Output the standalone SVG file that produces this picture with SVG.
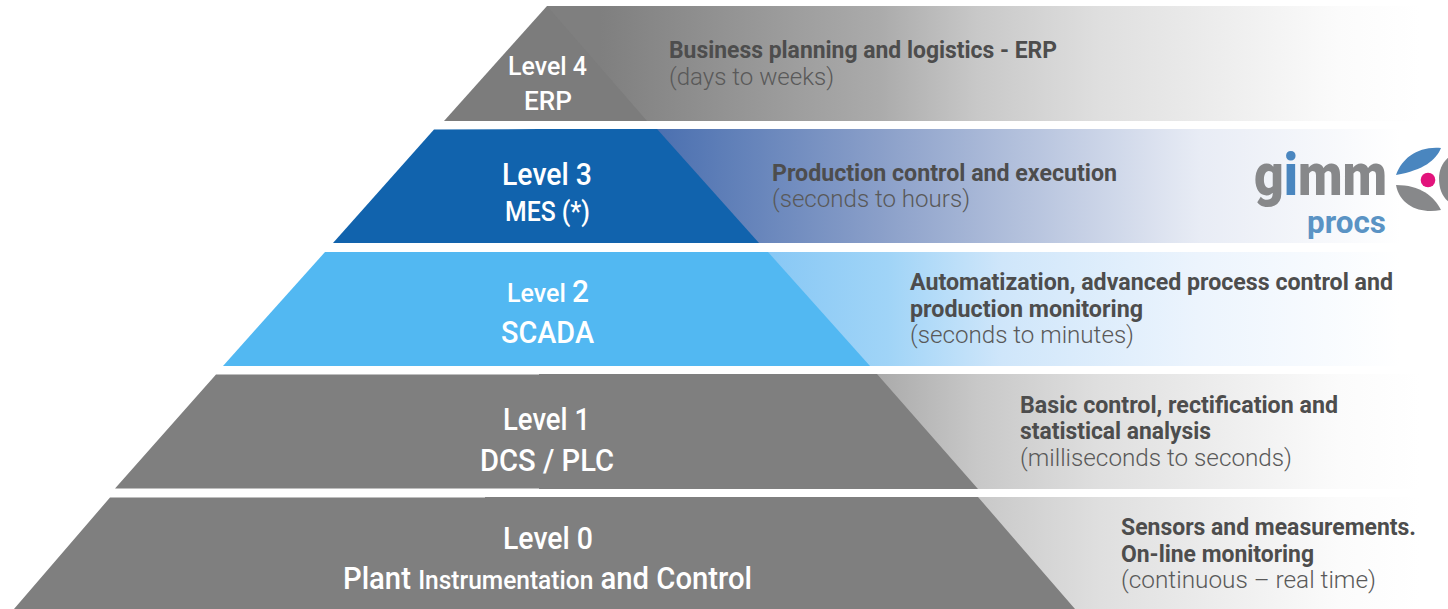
<svg xmlns="http://www.w3.org/2000/svg" width="1448" height="609" viewBox="0 0 1448 609">
<style>
text{font-family:Roboto,"Liberation Sans",sans-serif}
.l{fill:#fff;font-weight:500;text-anchor:middle}
.h{fill:#4d4d4d;font-weight:700;font-size:24px}
.s{fill:#595959;font-weight:300;font-size:24px}
</style>
<defs>
<linearGradient id="gGray" gradientUnits="userSpaceOnUse" x1="600" y1="0" x2="1420" y2="0"><stop offset="0" stop-color="#7f7f7f"/><stop offset=".342" stop-color="#ababab"/><stop offset=".46" stop-color="#c8c8c8"/><stop offset=".61" stop-color="#dfdfdf"/><stop offset=".9" stop-color="#fbfbfb"/><stop offset="1" stop-color="#fff"/></linearGradient>
<linearGradient id="gBlue" gradientUnits="userSpaceOnUse" x1="657" y1="0" x2="1400" y2="0"><stop offset="0" stop-color="#4b70b0"/><stop offset=".3" stop-color="#8a9fc9"/><stop offset=".73" stop-color="#e8ecf5"/><stop offset="1" stop-color="#fff"/></linearGradient>
<linearGradient id="gSky" gradientUnits="userSpaceOnUse" x1="768" y1="0" x2="1400" y2="0"><stop offset="0" stop-color="#88c8f5"/><stop offset=".19" stop-color="#a0d4f7"/><stop offset=".37" stop-color="#cfe6fa"/><stop offset=".68" stop-color="#ecf4fd"/><stop offset="1" stop-color="#fff"/></linearGradient>
</defs>
<rect width="1448" height="609" fill="#fff"/>
<g id="level4">
<rect x="547" y="6" width="901" height="115" fill="url(#gGray)"/>
<polygon points="547,6 444,121 647,121" fill="#7c7c7c"/>
<text class="l" x="547.500" y="75" font-size="26" textLength="79" lengthAdjust="spacingAndGlyphs">Level 4</text>
<text class="l" x="548" y="110" font-size="26" textLength="48" lengthAdjust="spacingAndGlyphs">ERP</text>
<text class="h" x="669" y="58" textLength="388" lengthAdjust="spacingAndGlyphs">Business planning and logistics - ERP</text>
<text class="s" x="669" y="85" textLength="165" lengthAdjust="spacingAndGlyphs">(days to weeks)</text>
</g>
<g id="level3">
<rect x="539" y="129" width="909" height="114" fill="url(#gBlue)"/>
<polygon points="434,129.500 539,129 657,129 759,243 333,243" fill="#1163ad"/>
<text class="l" x="547" y="185" font-size="31" textLength="90" lengthAdjust="spacingAndGlyphs">Level 3</text>
<text class="l" x="547.500" y="221" font-size="27" textLength="85" lengthAdjust="spacingAndGlyphs">MES (*)</text>
<text class="h" x="772" y="181" textLength="345" lengthAdjust="spacingAndGlyphs">Production control and execution</text>
<text class="s" x="772" y="207" textLength="198" lengthAdjust="spacingAndGlyphs">(seconds to hours)</text>
</g>
<g id="logo">
<text x="1254" y="195" font-size="60" font-weight="900" fill="#87888a" textLength="133" lengthAdjust="spacingAndGlyphs">g<tspan fill="#4a86bf">i</tspan>mm</text>
<text x="1307" y="233" font-size="32" font-weight="700" fill="#5a93c4" textLength="79" lengthAdjust="spacingAndGlyphs">procs</text>
<path d="M1396 175C1402 158 1418 146 1441 148C1436 160 1424 170 1396 175Z" fill="#4a86bf"/>
<path d="M1396 185C1420 185 1434 196 1441 210C1420 214 1400 206 1396 185Z" fill="#87888a"/>
<path d="M1452 155C1443 160 1439 170 1439 178C1439 190 1443 199 1452 204Z" fill="#87888a"/>
<circle cx="1428" cy="180" r="7.300" fill="#e2147c"/>
</g>
<g id="level2">
<rect x="539" y="252" width="909" height="114" fill="url(#gSky)"/>
<polygon points="325,252 768,252 870,366 223,366" fill="#52b8f2"/>
<text class="l" x="548" y="302" font-size="26" textLength="82" lengthAdjust="spacingAndGlyphs">Level <tspan font-size="31">2</tspan></text>
<text class="l" x="547.500" y="343" font-size="31" textLength="93" lengthAdjust="spacingAndGlyphs">SCADA</text>
<text class="h" x="910" y="290" textLength="483" lengthAdjust="spacingAndGlyphs">Automatization, advanced process control and</text>
<text class="h" x="910" y="317" textLength="233" lengthAdjust="spacingAndGlyphs">production monitoring</text>
<text class="s" x="910" y="343" textLength="224" lengthAdjust="spacingAndGlyphs">(seconds to minutes)</text>
</g>
<g id="level1">
<rect x="539" y="374" width="909" height="115" fill="url(#gGray)"/>
<polygon points="216,374.500 539,374.500 539,374 877,374 978,489 539,489 539,488.500 115,488.500" fill="#7f7f7f"/>
<text class="l" x="546.500" y="430" font-size="31" textLength="87" lengthAdjust="spacingAndGlyphs">Level 1</text>
<text class="l" x="547" y="471" font-size="31" textLength="134" lengthAdjust="spacingAndGlyphs">DCS / PLC</text>
<text class="h" x="1020" y="413" textLength="318" lengthAdjust="spacingAndGlyphs">Basic control, rectification and</text>
<text class="h" x="1020" y="439" textLength="191" lengthAdjust="spacingAndGlyphs">statistical analysis</text>
<text class="s" x="1020" y="466" textLength="272" lengthAdjust="spacingAndGlyphs">(milliseconds to seconds)</text>
</g>
<g id="level0">
<rect x="485" y="497" width="963" height="112" fill="url(#gGray)"/>
<polygon points="110,497.500 485,497.500 485,497 978,497 1075,609 14,609" fill="#7f7f7f"/>
<text class="l" x="548" y="549" font-size="31" textLength="90" lengthAdjust="spacingAndGlyphs">Level 0</text>
<text class="l" x="547.500" y="589" font-size="31" textLength="409" lengthAdjust="spacingAndGlyphs">Plant <tspan font-size="26">Instrumentation</tspan> and Control</text>
<text class="h" x="1121" y="535" textLength="295" lengthAdjust="spacingAndGlyphs">Sensors and measurements.</text>
<text class="h" x="1121" y="562" textLength="193" lengthAdjust="spacingAndGlyphs">On-line monitoring</text>
<text class="s" x="1121" y="588" textLength="255" lengthAdjust="spacingAndGlyphs">(continuous – real time)</text>
</g>
</svg>
